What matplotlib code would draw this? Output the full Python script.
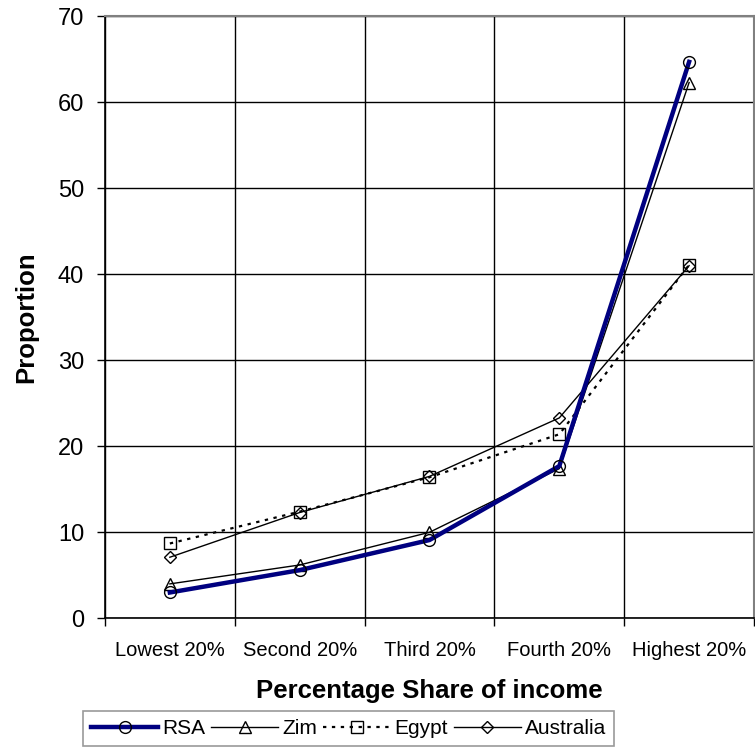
import numpy as np
import matplotlib.pyplot as plt
from matplotlib.ticker import FixedLocator

plt.rcParams['font.family'] = ['Liberation Sans', 'DejaVu Sans']

# income quintiles and the share held by each, per country
quintiles = ["Lowest 20%", "Second 20%", "Third 20%", "Fourth 20%", "Highest 20%"]
rsa = [3.0, 5.6, 9.1, 17.7, 64.7]
zim = [4.0, 6.2, 10.0, 17.4, 62.3]
egypt = [8.7, 12.4, 16.4, 21.4, 41.1]
australia = [7.1, 12.3, 16.5, 23.3, 41.0]

fig = plt.figure(figsize=(7.55, 7.47), dpi=100)
ax = fig.add_axes([0.139, 0.1723, 0.8597, 0.8059])

x = np.arange(len(quintiles))

ax.plot(x, zim, color='black', lw=1.0, marker='^', ms=8, mfc='none', mec='black', mew=1.0, label='Zim', zorder=3)
ax.plot(x, egypt, color='black', lw=1.6, ls=(0, (1.5, 2.5)), marker='s', ms=8, mfc='none', mec='black', mew=1.0, label='Egypt', zorder=3)
ax.plot(x, australia, color='black', lw=1.0, marker='D', ms=6, mfc='none', mec='black', mew=1.0, label='Australia', zorder=3)
ax.plot(x, rsa, color='#000080', lw=3.2, marker='o', ms=8.5, mfc='none', mec='black', mew=1.0, label='RSA', zorder=4)

ax.set_xlim(-0.5, 4.5)
ax.set_ylim(0, 70)
ax.set_yticks(np.arange(0, 71, 10))
ax.set_xticks(x)
ax.set_xticklabels(quintiles)
ax.xaxis.set_minor_locator(FixedLocator(np.arange(-0.5, 4.6, 1)))

ax.tick_params(axis='x', which='major', length=0, labelsize=14.5, pad=16)
ax.tick_params(axis='x', which='minor', length=6, width=1, direction='out', color='black')
ax.tick_params(axis='y', length=6, width=1, direction='out', labelsize=17, pad=9)

ax.grid(True, axis='y', which='major', color='black', lw=1.0, zorder=0)
ax.grid(True, axis='x', which='minor', color='black', lw=1.0, zorder=0)
ax.set_axisbelow(True)

for side in ['left', 'bottom']:
    ax.spines[side].set_color('black')
    ax.spines[side].set_linewidth(1.2)
for side in ['top', 'right']:
    ax.spines[side].set_color('#808080')
    ax.spines[side].set_linewidth(1.5)

ax.set_xlabel('Percentage Share of income', fontsize=18.5, fontweight='bold', labelpad=14)
ax.set_ylabel('Proportion', fontsize=18.5, fontweight='bold', labelpad=14)

handles, labels = ax.get_legend_handles_labels()
order = [3, 0, 1, 2]
leg = fig.legend([handles[i] for i in order], [labels[i] for i in order],
                 loc='upper left', bbox_to_anchor=(0.11, 0.0486), bbox_transform=fig.transFigure,
                 ncol=4, fontsize=15, frameon=True, fancybox=False, edgecolor='#808080',
                 handlelength=3.2, handletextpad=0.2, columnspacing=0.3,
                 borderpad=0.4, borderaxespad=0)
leg.get_frame().set_linewidth(1.2)

fig.savefig('out.png', dpi=100)
